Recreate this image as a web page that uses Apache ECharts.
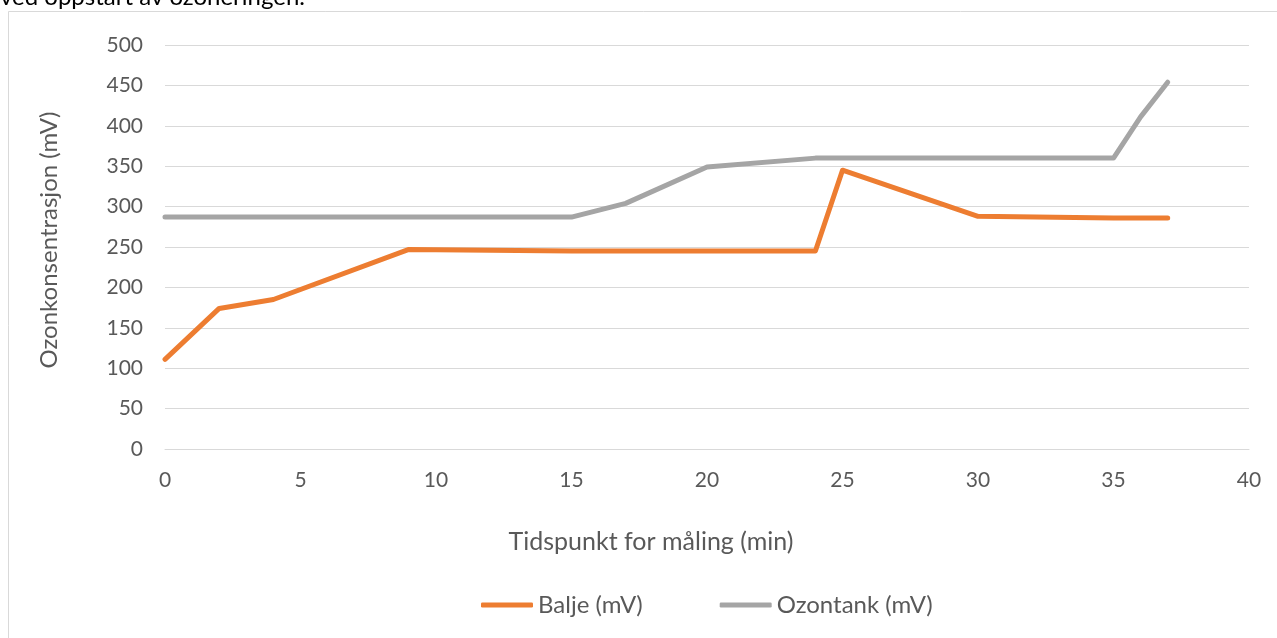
<!DOCTYPE html>
<html>
<head>
<meta charset="utf-8">
<script src="https://cdn.jsdelivr.net/npm/echarts@6/dist/echarts.min.js"></script>
<style>
  html, body { margin: 0; padding: 0; background: #ffffff; }
  #chart { width: 1277px; height: 638px; }
</style>
</head>
<body>
<div id="chart"></div>
<script>
// Måletidspunkt (min) og målte ozonverdier (mV)
const tider = [0, 2, 4, 9, 15, 17, 20, 24, 25, 30, 35, 36, 37];
const balje = [111, 174, 185, 247, 245, 245, 245, 245, 345, 288, 286, 286, 286];
const ozontank = [287, 287, 287, 287, 287, 304, 349, 360, 360, 360, 360, 411, 454];
const serieNavn = ['Balje (mV)', 'Ozontank (mV)'];
const farger = ['#ED7D31', '#A5A5A5'];

const font = 'Lato, "Open Sans", sans-serif';
const pair = (xs, ys) => xs.map((x, i) => [x, ys[i]]);

const chart = echarts.init(document.getElementById('chart'));
chart.setOption({
  animation: false,
  backgroundColor: '#ffffff',
  graphic: [
    {
      type: 'rect',
      shape: { x: 8.5, y: 11.5, width: 1400, height: 800 },
      style: { fill: 'none', stroke: '#d9d9d9', lineWidth: 1 },
      silent: true
    },
    {
      type: 'text',
      left: 0,
      top: -15,
      style: { text: 'ved oppstart av ozoneringen.', font: '24px ' + font, fill: '#000000' },
      silent: true
    }
  ],
  grid: { left: 165, right: 28, top: 45, bottom: 189 },
  legend: {
    bottom: 16,
    left: 476,
    itemWidth: 52,
    itemHeight: 5,
    itemGap: 77,
    icon: 'roundRect',
    textStyle: { color: '#595959', fontSize: 24, fontFamily: font },
    data: serieNavn
  },
  xAxis: {
    type: 'value',
    min: 0, max: 40, interval: 5,
    name: 'Tidspunkt for måling (min)',
    nameLocation: 'middle',
    nameGap: 80,
    nameTextStyle: { color: '#595959', fontSize: 25, fontFamily: font, padding: [0, 112, 0, 0] },
    axisLine: { show: true, lineStyle: { color: '#d9d9d9', width: 1 } },
    axisTick: { show: false },
    axisLabel: { color: '#595959', fontSize: 21, fontFamily: font, margin: 21 },
    splitLine: { show: false }
  },
  yAxis: {
    type: 'value',
    min: 0, max: 500, interval: 50,
    name: 'Ozonkonsentrasjon (mV)',
    nameLocation: 'middle',
    nameGap: 104,
    nameTextStyle: { color: '#595959', fontSize: 24, fontFamily: font, padding: [0, 0, 0, 14] },
    axisLine: { show: false },
    axisTick: { show: false },
    axisLabel: { color: '#595959', fontSize: 21, fontFamily: font, margin: 22 },
    splitLine: { lineStyle: { color: '#d9d9d9', width: 1 } }
  },
  series: [
    {
      name: serieNavn[0],
      type: 'line',
      data: pair(tider, balje),
      showSymbol: false,
      symbol: 'none',
      lineStyle: { color: farger[0], width: 5, cap: 'round', join: 'round' },
      itemStyle: { color: farger[0] },
      z: 3
    },
    {
      name: serieNavn[1],
      type: 'line',
      data: pair(tider, ozontank),
      showSymbol: false,
      symbol: 'none',
      lineStyle: { color: farger[1], width: 5, cap: 'round', join: 'round' },
      itemStyle: { color: farger[1] },
      z: 2
    }
  ]
});
</script>
</body>
</html>
